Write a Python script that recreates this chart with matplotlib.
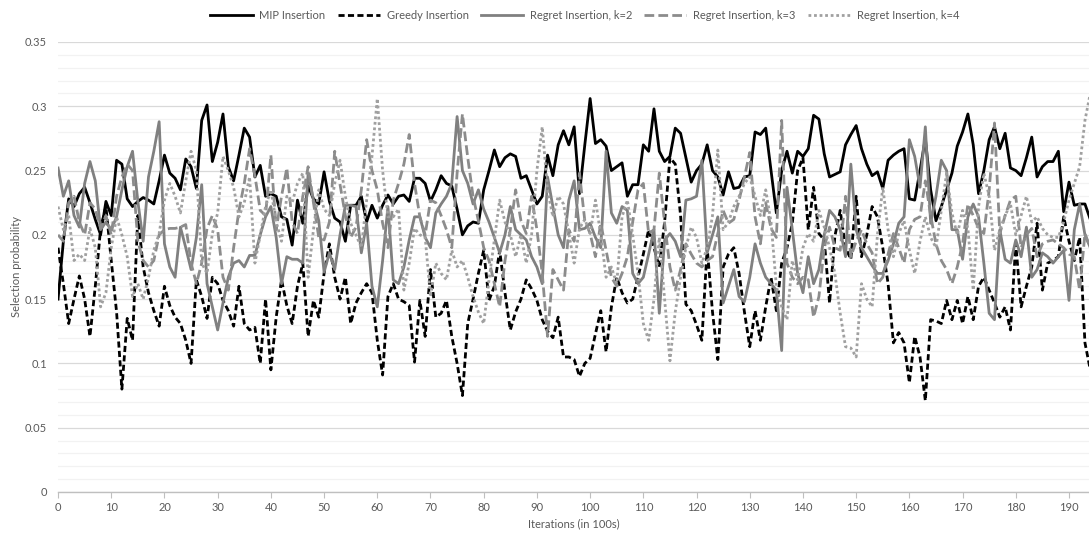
import matplotlib
matplotlib.use('Agg')
import matplotlib.pyplot as plt
from matplotlib.ticker import MultipleLocator
import numpy as np

# 数据: 每 100 次迭代的选择概率
mip_insertion = [
    0.150, 0.195, 0.228, 0.222, 0.232, 0.237, 0.225, 0.212, 0.200, 0.226,
    0.215, 0.258, 0.255, 0.228, 0.222, 0.226, 0.229, 0.227, 0.224, 0.242,
    0.262, 0.248, 0.244, 0.235, 0.259, 0.253, 0.236, 0.289, 0.301, 0.257,
    0.272, 0.294, 0.253, 0.242, 0.262, 0.283, 0.276, 0.245, 0.254, 0.230,
    0.232, 0.230, 0.214, 0.212, 0.192, 0.227, 0.209, 0.238, 0.228, 0.224,
    0.249, 0.226, 0.213, 0.210, 0.195, 0.223, 0.223, 0.230, 0.210, 0.223,
    0.213, 0.223, 0.231, 0.224, 0.230, 0.231, 0.226, 0.244, 0.244, 0.240,
    0.226, 0.235, 0.246, 0.240, 0.238, 0.220, 0.200, 0.207, 0.210, 0.209,
    0.235, 0.250, 0.266, 0.253, 0.260, 0.263, 0.261, 0.244, 0.246, 0.235,
    0.224, 0.230, 0.262, 0.246, 0.270, 0.281, 0.270, 0.284, 0.232, 0.270,
    0.306, 0.271, 0.274, 0.269, 0.250, 0.253, 0.256, 0.230, 0.239, 0.239,
    0.270, 0.265, 0.298, 0.265, 0.257, 0.261, 0.283, 0.279, 0.260, 0.241,
    0.250, 0.255, 0.270, 0.250, 0.245, 0.231, 0.249, 0.236, 0.237, 0.245,
    0.246, 0.280, 0.278, 0.283, 0.250, 0.217, 0.250, 0.265, 0.248, 0.265,
    0.261, 0.267, 0.293, 0.290, 0.263, 0.245, 0.247, 0.249, 0.270, 0.278,
    0.285, 0.267, 0.255, 0.246, 0.249, 0.236, 0.258, 0.262, 0.265, 0.267,
    0.228, 0.227, 0.250, 0.275, 0.235, 0.211, 0.222, 0.235, 0.248, 0.269,
    0.280, 0.294, 0.270, 0.232, 0.250, 0.274, 0.284, 0.267, 0.279, 0.252,
    0.250, 0.246, 0.260, 0.276, 0.245, 0.253, 0.257, 0.257, 0.265, 0.218,
    0.241, 0.223, 0.224, 0.224, 0.212,
]

greedy_insertion = [
    0.190, 0.162, 0.131, 0.150, 0.168, 0.150, 0.121, 0.160, 0.205, 0.222,
    0.180, 0.140, 0.080, 0.135, 0.118, 0.215, 0.175, 0.155, 0.141, 0.129,
    0.160, 0.145, 0.136, 0.131, 0.118, 0.100, 0.165, 0.152, 0.135, 0.167,
    0.162, 0.149, 0.141, 0.129, 0.160, 0.131, 0.126, 0.128, 0.100, 0.150,
    0.095, 0.136, 0.165, 0.145, 0.131, 0.160, 0.178, 0.121, 0.149, 0.136,
    0.170, 0.193, 0.167, 0.150, 0.167, 0.131, 0.147, 0.155, 0.162, 0.155,
    0.118, 0.091, 0.152, 0.162, 0.150, 0.148, 0.145, 0.101, 0.149, 0.121,
    0.173, 0.136, 0.139, 0.149, 0.121, 0.100, 0.075, 0.131, 0.150, 0.170,
    0.188, 0.149, 0.160, 0.188, 0.155, 0.126, 0.140, 0.150, 0.165, 0.158,
    0.149, 0.134, 0.125, 0.120, 0.136, 0.105, 0.105, 0.103, 0.090, 0.100,
    0.104, 0.123, 0.141, 0.109, 0.144, 0.167, 0.155, 0.147, 0.150, 0.167,
    0.185, 0.204, 0.190, 0.175, 0.210, 0.260, 0.255, 0.215, 0.146, 0.141,
    0.130, 0.118, 0.190, 0.140, 0.103, 0.175, 0.185, 0.190, 0.170, 0.140,
    0.113, 0.141, 0.118, 0.144, 0.167, 0.141, 0.178, 0.190, 0.209, 0.250,
    0.260, 0.204, 0.237, 0.201, 0.196, 0.147, 0.199, 0.219, 0.190, 0.181,
    0.230, 0.183, 0.200, 0.222, 0.214, 0.190, 0.162, 0.116, 0.124, 0.116,
    0.085, 0.121, 0.105, 0.071, 0.134, 0.133, 0.131, 0.149, 0.134, 0.149,
    0.131, 0.152, 0.134, 0.160, 0.167, 0.157, 0.147, 0.136, 0.144, 0.126,
    0.193, 0.144, 0.160, 0.175, 0.209, 0.157, 0.178, 0.180, 0.183, 0.214,
    0.195, 0.180, 0.198, 0.116, 0.095,
]

regret_k2 = [
    0.252, 0.230, 0.242, 0.215, 0.206, 0.240, 0.257, 0.242, 0.204, 0.210,
    0.204, 0.214, 0.235, 0.253, 0.265, 0.226, 0.195, 0.245, 0.265, 0.288,
    0.193, 0.175, 0.167, 0.206, 0.190, 0.173, 0.198, 0.239, 0.162, 0.144,
    0.126, 0.147, 0.167, 0.178, 0.180, 0.175, 0.184, 0.184, 0.200, 0.214,
    0.222, 0.198, 0.162, 0.183, 0.181, 0.181, 0.178, 0.248, 0.227, 0.211,
    0.171, 0.186, 0.173, 0.200, 0.223, 0.223, 0.222, 0.186, 0.209, 0.160,
    0.144, 0.180, 0.222, 0.165, 0.162, 0.175, 0.196, 0.214, 0.214, 0.198,
    0.190, 0.217, 0.224, 0.230, 0.240, 0.292, 0.250, 0.240, 0.224, 0.235,
    0.220, 0.210, 0.198, 0.186, 0.200, 0.222, 0.204, 0.200, 0.196, 0.183,
    0.175, 0.162, 0.245, 0.222, 0.200, 0.190, 0.227, 0.242, 0.204, 0.205,
    0.209, 0.198, 0.190, 0.265, 0.217, 0.209, 0.222, 0.219, 0.170, 0.162,
    0.167, 0.185, 0.204, 0.139, 0.196, 0.201, 0.195, 0.183, 0.227, 0.228,
    0.230, 0.258, 0.186, 0.200, 0.214, 0.147, 0.160, 0.173, 0.152, 0.148,
    0.167, 0.193, 0.178, 0.167, 0.162, 0.157, 0.110, 0.237, 0.204, 0.170,
    0.155, 0.183, 0.162, 0.173, 0.200, 0.219, 0.214, 0.204, 0.183, 0.255,
    0.204, 0.190, 0.183, 0.176, 0.170, 0.170, 0.180, 0.193, 0.209, 0.214,
    0.274, 0.261, 0.237, 0.284, 0.209, 0.230, 0.258, 0.250, 0.204, 0.204,
    0.181, 0.214, 0.224, 0.214, 0.178, 0.139, 0.134, 0.204, 0.181, 0.178,
    0.196, 0.183, 0.206, 0.167, 0.173, 0.186, 0.183, 0.178, 0.183, 0.188,
    0.149, 0.204, 0.224, 0.200, 0.190,
]

regret_k3 = [
    0.200, 0.195, 0.225, 0.230, 0.210, 0.200, 0.225, 0.220, 0.205, 0.215,
    0.200, 0.230, 0.245, 0.255, 0.250, 0.195, 0.180, 0.175, 0.180, 0.200,
    0.204, 0.205, 0.205, 0.206, 0.208, 0.178, 0.162, 0.178, 0.205, 0.215,
    0.204, 0.167, 0.157, 0.190, 0.219, 0.240, 0.267, 0.246, 0.219, 0.215,
    0.262, 0.204, 0.230, 0.252, 0.210, 0.201, 0.230, 0.253, 0.225, 0.198,
    0.196, 0.210, 0.265, 0.239, 0.215, 0.198, 0.206, 0.235, 0.274, 0.250,
    0.235, 0.209, 0.190, 0.227, 0.240, 0.255, 0.278, 0.240, 0.214, 0.200,
    0.227, 0.225, 0.215, 0.204, 0.190, 0.248, 0.294, 0.260, 0.230, 0.211,
    0.190, 0.180, 0.162, 0.144, 0.180, 0.204, 0.235, 0.211, 0.201, 0.230,
    0.204, 0.170, 0.121, 0.173, 0.165, 0.157, 0.204, 0.195, 0.248, 0.211,
    0.201, 0.183, 0.209, 0.188, 0.167, 0.160, 0.170, 0.183, 0.210, 0.235,
    0.240, 0.201, 0.204, 0.248, 0.209, 0.175, 0.157, 0.173, 0.193, 0.185,
    0.178, 0.175, 0.180, 0.183, 0.201, 0.219, 0.209, 0.212, 0.227, 0.245,
    0.264, 0.214, 0.193, 0.225, 0.205, 0.198, 0.289, 0.178, 0.167, 0.162,
    0.167, 0.165, 0.136, 0.152, 0.190, 0.206, 0.190, 0.188, 0.230, 0.183,
    0.195, 0.204, 0.193, 0.186, 0.162, 0.167, 0.185, 0.201, 0.190, 0.178,
    0.204, 0.212, 0.214, 0.242, 0.215, 0.193, 0.180, 0.173, 0.162, 0.175,
    0.193, 0.224, 0.215, 0.205, 0.201, 0.235, 0.287, 0.201, 0.215, 0.227,
    0.230, 0.190, 0.200, 0.205, 0.183, 0.193, 0.195, 0.196, 0.193, 0.190,
    0.185, 0.183, 0.157, 0.201, 0.190,
]

regret_k4 = [
    0.222, 0.204, 0.215, 0.180, 0.185, 0.180, 0.205, 0.190, 0.144, 0.155,
    0.190, 0.214, 0.200, 0.183, 0.152, 0.162, 0.150, 0.167, 0.188, 0.201,
    0.227, 0.240, 0.230, 0.217, 0.242, 0.265, 0.250, 0.178, 0.170, 0.201,
    0.217, 0.261, 0.250, 0.237, 0.214, 0.225, 0.245, 0.178, 0.200, 0.222,
    0.235, 0.210, 0.195, 0.230, 0.225, 0.240, 0.248, 0.167, 0.204, 0.235,
    0.220, 0.215, 0.240, 0.258, 0.230, 0.209, 0.200, 0.190, 0.227, 0.261,
    0.306, 0.250, 0.214, 0.214, 0.220, 0.157, 0.178, 0.205, 0.200, 0.198,
    0.152, 0.178, 0.170, 0.165, 0.188, 0.175, 0.180, 0.167, 0.152, 0.140,
    0.131, 0.165, 0.196, 0.227, 0.210, 0.200, 0.183, 0.200, 0.178, 0.200,
    0.250, 0.284, 0.235, 0.214, 0.230, 0.224, 0.201, 0.178, 0.205, 0.212,
    0.201, 0.227, 0.200, 0.167, 0.175, 0.162, 0.214, 0.227, 0.200, 0.170,
    0.131, 0.118, 0.150, 0.198, 0.150, 0.102, 0.140, 0.167, 0.190, 0.206,
    0.198, 0.178, 0.190, 0.215, 0.266, 0.204, 0.210, 0.222, 0.230, 0.240,
    0.245, 0.230, 0.215, 0.235, 0.210, 0.160, 0.144, 0.134, 0.180, 0.165,
    0.190, 0.201, 0.195, 0.219, 0.206, 0.190, 0.170, 0.139, 0.113, 0.112,
    0.105, 0.162, 0.150, 0.144, 0.200, 0.237, 0.204, 0.183, 0.201, 0.211,
    0.188, 0.170, 0.195, 0.214, 0.198, 0.190, 0.219, 0.248, 0.217, 0.200,
    0.219, 0.205, 0.157, 0.222, 0.248, 0.230, 0.188, 0.204, 0.215, 0.224,
    0.200, 0.215, 0.230, 0.210, 0.214, 0.205, 0.200, 0.198, 0.198, 0.210,
    0.227, 0.240, 0.253, 0.289, 0.310,
]

series_labels = ["MIP Insertion", "Greedy Insertion", "Regret Insertion, k=2",
                 "Regret Insertion, k=3", "Regret Insertion, k=4"]

plt.rcParams['font.family'] = ['Lato', 'DejaVu Sans']

fig = plt.figure(figsize=(10.89, 5.36), dpi=100)
ax = fig.add_axes([0.0533, 0.0821, 0.9467, 0.8396])

x = np.arange(len(mip_insertion))

# 线型: 黑实线 / 黑虚线 / 灰实线 / 灰长虚线 / 浅灰方点线
ax.plot(x, mip_insertion, color='#000000', lw=2.0, label=series_labels[0])
ax.plot(x, greedy_insertion, color='#000000', lw=2.0, dashes=(2.2, 1.2),
        label=series_labels[1])
ax.plot(x, regret_k2, color='#808080', lw=2.0, label=series_labels[2])
ax.plot(x, regret_k3, color='#8c8c8c', lw=2.0, dashes=(3.5, 1.5),
        label=series_labels[3])
ax.plot(x, regret_k4, color='#a0a0a0', lw=2.0, dashes=(1.0, 1.0),
        dash_capstyle='butt', label=series_labels[4])

ax.set_xlim(0, 193.76)
ax.set_ylim(0, 0.35)

ax.yaxis.set_minor_locator(MultipleLocator(0.01))
ax.xaxis.set_major_locator(MultipleLocator(10))
ax.set_yticks([0, 0.05, 0.1, 0.15, 0.2, 0.25, 0.3, 0.35])
ax.set_yticklabels(["0", "0.05", "0.1", "0.15", "0.2", "0.25", "0.3", "0.35"])

ax.grid(which='major', axis='y', color='#d9d9d9', lw=0.9)
ax.grid(which='minor', axis='y', color='#f2f2f2', lw=0.9)
ax.set_axisbelow(True)

for side in ('left', 'right', 'top'):
    ax.spines[side].set_visible(False)
ax.spines['bottom'].set_color('#bfbfbf')
ax.spines['bottom'].set_linewidth(1.0)

ax.tick_params(axis='y', which='both', length=0, labelsize=8, colors='#595959', pad=8)
ax.tick_params(axis='x', which='major', length=4, color='#bfbfbf', labelsize=8,
               colors='#595959', pad=3)
ax.tick_params(axis='x', which='minor', length=0)

ax.set_xlabel("Iterations (in 100s)", fontsize=8, color='#595959', labelpad=4)
ax.set_ylabel("Selection probability", fontsize=8, color='#595959', labelpad=2)

fig.legend(loc='upper center', bbox_to_anchor=(0.537, 1.0), ncol=5, frameon=False,
           fontsize=8, handlelength=3.8, handletextpad=0.6, columnspacing=1.1,
           labelcolor='#595959')

plt.savefig('out.png', dpi=100)
plt.close()
